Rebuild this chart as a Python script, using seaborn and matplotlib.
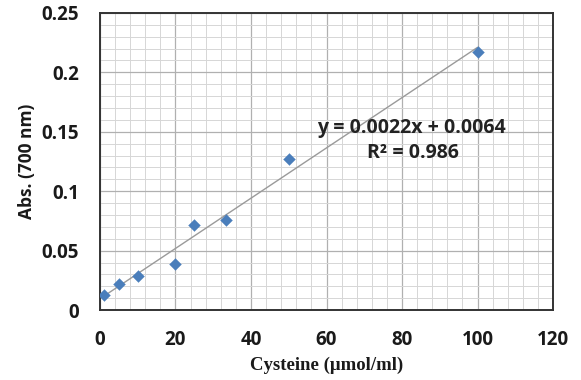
import numpy as np
import pandas as pd
import seaborn as sns
import matplotlib.pyplot as plt
from matplotlib.ticker import MultipleLocator

# Cysteine standard curve
cysteine = [1, 5, 10, 20, 25, 33.3, 50, 100]
absorbance = [0.0126, 0.0219, 0.0284, 0.0385, 0.0713, 0.0760, 0.1274, 0.2169]
equation_text = "y = 0.0022x + 0.0064"
r2_text = "R² = 0.986"

df = pd.DataFrame({"cysteine": cysteine, "abs": absorbance})

sns.set_style("white")
plt.rcParams["font.family"] = ["Open Sans", "DejaVu Sans"]

fig = plt.figure(figsize=(5.81, 3.80), dpi=100)
ax = fig.add_axes([0.172, 0.184, 0.780, 0.782])

# linear trendline over the data range
sns.regplot(data=df, x="cysteine", y="abs", scatter=False, ci=None,
            line_kws={"color": "#9a9a9a", "linewidth": 1.0}, ax=ax)
sns.scatterplot(data=df, x="cysteine", y="abs", marker="D", s=36,
                color="#4a7ebb", edgecolor="#4a7ebb", linewidth=0.3,
                zorder=3, ax=ax)

ax.set_xlim(0, 120)
ax.set_ylim(0, 0.25)
ax.xaxis.set_major_locator(MultipleLocator(20))
ax.xaxis.set_minor_locator(MultipleLocator(4))
ax.yaxis.set_major_locator(MultipleLocator(0.05))
ax.yaxis.set_minor_locator(MultipleLocator(0.01))
ax.set_yticks([0, 0.05, 0.1, 0.15, 0.2, 0.25])
ax.set_yticklabels(["0", "0.05", "0.1", "0.15", "0.2", "0.25"])

ax.grid(which="major", color="#b0b0b0", linewidth=0.9)
ax.grid(which="minor", color="#d6d6d6", linewidth=0.7)
ax.set_axisbelow(True)

for sp in ax.spines.values():
    sp.set_color("#333333")
    sp.set_linewidth(1.4)
ax.tick_params(which="major", direction="out", length=6, width=0.8,
               color="#999999", labelsize=13.5)
ax.tick_params(axis="y", pad=9)
ax.tick_params(axis="x", pad=8)
ax.tick_params(which="minor", length=0)
for lab in ax.get_xticklabels() + ax.get_yticklabels():
    lab.set_fontweight("bold")
    lab.set_color("#1a1a1a")

ax.set_xlabel("Cysteine (μmol/ml)", fontsize=13.5, fontweight="bold",
              family=["Liberation Serif", "DejaVu Serif"], color="#1a1a1a",
              labelpad=5)
ax.set_ylabel("Abs. (700 nm)", fontsize=12.5, fontweight="bold",
              color="#1a1a1a", labelpad=4)

ax.text(82.5, 0.1535, equation_text, ha="center", va="center",
        fontsize=14, fontweight="bold", color="#222222")
ax.text(83, 0.1325, r2_text, ha="center", va="center",
        fontsize=14, fontweight="bold", color="#222222")

fig.savefig("out.png", dpi=100)
